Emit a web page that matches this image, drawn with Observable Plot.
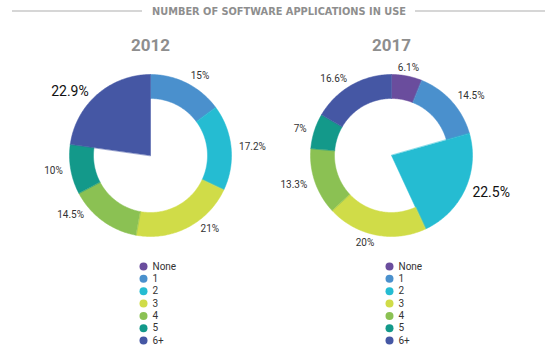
<!DOCTYPE html>
<html>
<head>
<meta charset="utf-8">
<script src="https://cdn.jsdelivr.net/npm/d3@7"></script>
<script src="https://cdn.jsdelivr.net/npm/@observablehq/plot@0.6"></script>
<style>
  html, body { margin: 0; padding: 0; background: #fff; }
  #chart svg { display: block; }
</style>
</head>
<body>
<div id="chart"></div>
<script>
const title = "NUMBER OF SOFTWARE APPLICATIONS IN USE";
const categories = ["None", "1", "2", "3", "4", "5", "6+"];
const colors = ["#6a4d9d", "#4a90cd", "#25bcd2", "#d0dc48", "#8bc153", "#13998a", "#4557a4"];
const years = ["2012", "2017"];
const values2012 = [0, 15, 17.2, 21, 14.5, 10, 22.9];
const values2017 = [6.1, 14.5, 22.5, 20, 13.3, 7, 16.6];
const labels2012 = ["", "15%", "17.2%", "21%", "14.5%", "10%", "22.9%"];
const labels2017 = ["6.1%", "14.5%", "22.5%", "20%", "13.3%", "7%", "16.6%"];

// layout (positions / styling only)
const W = 559, H = 352;
const rOuter = 81, rInner = 57, rLabel = 89;
const labelNudge2012 = [0, 0, 0, -7, 12, 0, -3];   // degrees, label placement tweak
const labelNudge2017 = [0, 0, 0, 0, 0, 0, 0];
const pies = [
  {year: years[0], values: values2012, labels: labels2012, nudge: labelNudge2012, cx: 150, cy: 155},
  {year: years[1], values: values2017, labels: labels2017, nudge: labelNudge2017, cx: 391, cy: 155}
];
const legendX = [143, 389];

const polys = [];
const labelRows = [];
pies.forEach((p, pi) => {
  const total = d3.sum(p.values);
  const maxI = d3.maxIndex(p.values);
  let acc = 0;
  p.values.forEach((v, i) => {
    const a0 = acc / total * 2 * Math.PI;
    acc += v;
    const a1 = acc / total * 2 * Math.PI;
    if (v <= 0) return;
    const id = pi + "-" + i;
    const inner = i === maxI ? 0 : rInner;
    const n = Math.max(2, Math.ceil((a1 - a0) / (Math.PI / 180)));
    for (let k = 0; k <= n; k++) {
      const a = a0 + (a1 - a0) * k / n;
      polys.push({id, key: categories[i], x: p.cx + rOuter * Math.sin(a), y: p.cy - rOuter * Math.cos(a)});
    }
    if (inner === 0) {
      polys.push({id, key: categories[i], x: p.cx, y: p.cy});
    } else {
      for (let k = n; k >= 0; k--) {
        const a = a0 + (a1 - a0) * k / n;
        polys.push({id, key: categories[i], x: p.cx + inner * Math.sin(a), y: p.cy - inner * Math.cos(a)});
      }
    }
    const am = (a0 + a1) / 2 + p.nudge[i] * Math.PI / 180;
    const deg = ((am * 180 / Math.PI) % 360 + 360) % 360;
    const anchor = deg < 15 || deg > 345 ? "middle" : deg < 180 ? "start" : "end";
    labelRows.push({
      text: p.labels[i], big: i === maxI, anchor,
      x: p.cx + rLabel * Math.sin(am), y: p.cy - rLabel * Math.cos(am)
    });
  });
});

const legendRows = [];
pies.forEach((p, pi) => {
  categories.forEach((c, i) => {
    legendRows.push({key: c, x: legendX[pi], y: 266 + i * 12.35});
  });
});

const labelMark = (rows, opts) => ["start", "middle", "end"].map(a =>
  Plot.text(rows.filter(d => d.anchor === a), {x: "x", y: "y", text: "text", textAnchor: a, ...opts}));

const chart = Plot.plot({
  width: W,
  height: H,
  margin: 0,
  x: {domain: [0, W], range: [0, W], axis: null},
  y: {domain: [0, H], range: [0, H], axis: null},
  color: {domain: categories, range: colors},
  style: {fontFamily: "Roboto, sans-serif", background: "#fff"},
  marks: [
    Plot.ruleY([10.5], {x1: 12, x2: 142, stroke: "#adadad", strokeWidth: 1}),
    Plot.ruleY([10.5], {x1: 415, x2: 545, stroke: "#adadad", strokeWidth: 1}),
    Plot.text([title], {x: 278.5, y: 11, text: d => d, fill: "#8e8e8e", fontSize: 9.8, fontWeight: "bold", fontFamily: "'DejaVu Sans', sans-serif", letterSpacing: 0.95}),
    Plot.text(pies, {x: "cx", y: 45.5, text: "year", fill: "#8e8e8e", fontSize: 17, fontWeight: "bold", fontFamily: "Roboto, sans-serif"}),
    Plot.line(polys, {x: "x", y: "y", z: "id", fill: "key", stroke: "key", strokeWidth: 0.5, curve: "linear-closed"}),
    ...labelMark(labelRows.filter(d => !d.big), {fill: "#333", fontSize: 10}),
    ...labelMark(labelRows.filter(d => d.big), {fill: "#111", fontSize: 14}),
    Plot.dot(legendRows, {x: "x", y: "y", fill: "key", r: 4}),
    Plot.text(legendRows, {x: d => d.x + 9, y: "y", text: "key", textAnchor: "start", fill: "#333", fontSize: 10})
  ]
});
document.getElementById("chart").appendChild(chart);
</script>
</body>
</html>
